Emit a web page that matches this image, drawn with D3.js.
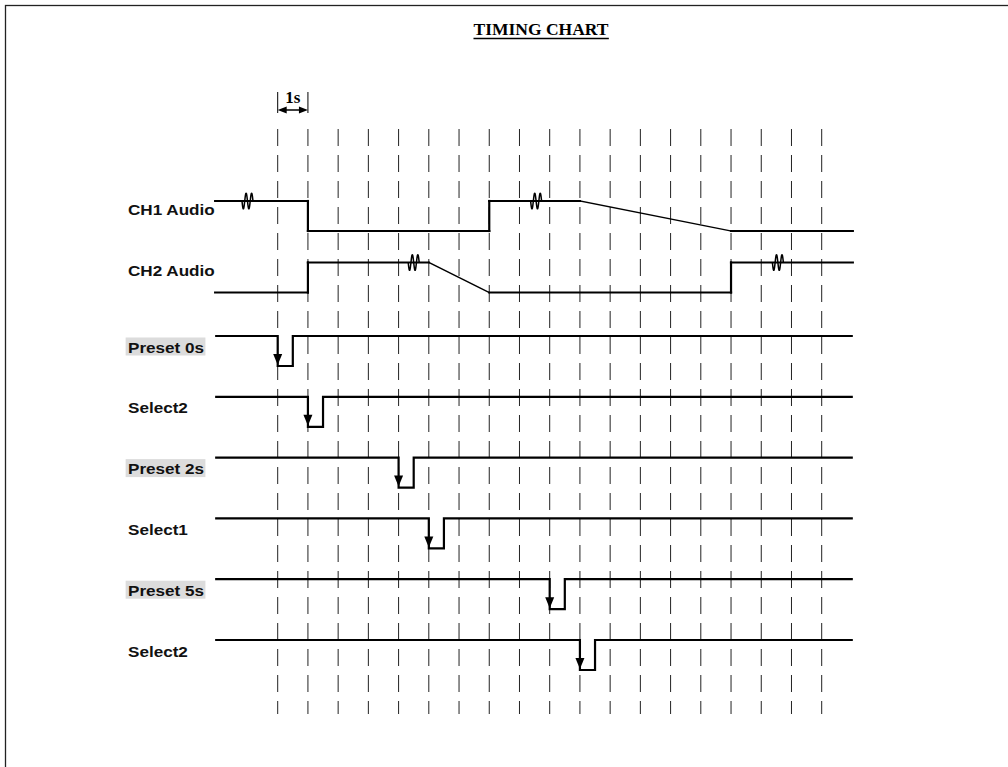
<!DOCTYPE html>
<html>
<head>
<meta charset="utf-8">
<script src="https://cdn.jsdelivr.net/npm/d3@7/dist/d3.min.js"></script>
<style>
  html, body { margin: 0; padding: 0; background: #fff; }
  svg { display: block; }
</style>
</head>
<body>
<svg id="chart" width="1008" height="767"></svg>
<script>
// ---------------- DATA ----------------
const title = "TIMING CHART";
const unitLabel = "1s";
const gridTicks = d3.range(0, 19);          // time grid, 1 s per division
const timeStart = -2.07, timeEnd = 19.03;

const audioRows = ["CH1 Audio", "CH2 Audio"];
// waypoints [time, level] (level 1 = high, 0 = low)
const ch1Audio = [[timeStart,1],[1,1],[1,0],[7,0],[7,1],[10,1],[15,0],[timeEnd,0]];
const ch2Audio = [[timeStart,0],[1,0],[1,1],[5,1],[7,0],[15,0],[15,1],[timeEnd,1]];
const ch1Breaks = [-1, 8.55];
const ch2Breaks = [4.5, 16.55];

const pulseRows   = ["Preset 0s", "Select2", "Preset 2s", "Select1", "Preset 5s", "Select2 "];
const pulseStarts = [0, 1, 4, 5, 9, 10];
const pulseWidth  = 0.5;
const highlighted = [true, false, true, false, true, false];

// ---------------- DRAWING ----------------
const svg = d3.select("#chart");
const x = d3.scaleLinear().domain([0, 18]).range([277.7, 821.7]);
const audioY = d3.scalePoint().domain(audioRows).range([201, 262.5]);
const pulseY = d3.scalePoint().domain(pulseRows).range([336, 640]);
const amp = 30;

// frame
svg.append("rect").attr("x", 5.5).attr("y", 5.5).attr("width", 1100).attr("height", 900)
  .attr("fill", "none").attr("stroke", "#222").attr("stroke-width", 1.3);

// title
const tt = svg.append("text").attr("x", 541).attr("y", 35)
  .attr("text-anchor", "middle")
  .attr("font-family", "'Liberation Serif', 'Times New Roman', serif")
  .attr("font-weight", "bold").attr("font-size", 17.5).attr("fill", "#000")
  .text(title);
const tb = tt.node().getBBox();
svg.append("line").attr("x1", tb.x).attr("x2", tb.x + tb.width)
  .attr("y1", 38.5).attr("y2", 38.5).attr("stroke", "#000").attr("stroke-width", 1.4);

// grid
svg.append("g").selectAll("line").data(gridTicks).join("line")
  .attr("x1", d => x(d)).attr("x2", d => x(d))
  .attr("y1", 129).attr("y2", 714)
  .attr("stroke", "#222").attr("stroke-width", 1)
  .attr("stroke-dasharray", "17,9");

// 1s marker
const mk = svg.append("g");
[0, 1].forEach(t => mk.append("line").attr("x1", x(t)).attr("x2", x(t))
  .attr("y1", 92).attr("y2", 113).attr("stroke", "#000").attr("stroke-width", 1));
mk.append("line").attr("x1", x(0) + 6).attr("x2", x(1) - 6).attr("y1", 110).attr("y2", 110)
  .attr("stroke", "#000").attr("stroke-width", 1.5);
mk.append("path").attr("d", `M${x(0)},110 L${x(0)+9},106.5 L${x(0)+9},113.5 Z`).attr("fill", "#000");
mk.append("path").attr("d", `M${x(1)},110 L${x(1)-9},106.5 L${x(1)-9},113.5 Z`).attr("fill", "#000");
mk.append("text").attr("x", (x(0) + x(1)) / 2).attr("y", 103).attr("text-anchor", "middle")
  .attr("font-family", "'Liberation Serif', 'Times New Roman', serif")
  .attr("font-weight", "bold").attr("font-size", 17).text(unitLabel);

// labels
const labelFont = "'Liberation Sans', Arial, Helvetica, sans-serif";
function label(txt, yBase, hl) {
  const g = svg.append("g").attr("transform", `translate(128,${yBase}) scale(1.18,1)`);
  if (hl) {
    const t0 = g.append("text").attr("font-family", labelFont).attr("font-weight", "bold")
      .attr("font-size", 14.5).text(txt.trim());
    const b = t0.node().getBBox();
    t0.remove();
    g.append("rect").attr("x", -2).attr("y", -15).attr("width", b.width + 3).attr("height", 18)
      .attr("fill", "#dcdcdc");
  }
  g.append("text").attr("font-family", labelFont).attr("font-weight", "bold")
    .attr("font-size", 14.5).attr("fill", "#111").text(txt.trim());
}

// audio signals
const lineGen = (row) => d3.line().x(d => x(d[0])).y(d => audioY(row) + (1 - d[1]) * amp);
[[ch1Audio, audioRows[0], ch1Breaks], [ch2Audio, audioRows[1], ch2Breaks]].forEach(([pts, row, brk]) => {
  for (let i = 0; i < pts.length - 1; i++) {
    const a = pts[i], b = pts[i + 1];
    const ramp = a[0] !== b[0] && a[1] !== b[1];
    svg.append("path").attr("d", lineGen(row)([a, b]))
      .attr("fill", "none").attr("stroke", "#000")
      .attr("stroke-width", ramp ? 1.4 : 2.2).attr("stroke-linecap", "square");
  }
  label(row, audioY(row) + amp / 2 - 1.5, false);
  // break squiggles
  brk.forEach(t => {
    const lvl = pts.find((p, i) => i < pts.length - 1 && p[0] <= t && pts[i + 1][0] >= t)[1];
    const cx = x(t), cy = audioY(row) + (1 - lvl) * amp;
    const sq = d3.range(0, 41).map(i => [cx - 5.5 + i * 11 / 40, cy + 8 * Math.sin(i / 40 * 4 * Math.PI)]);
    svg.append("path").attr("d", d3.line().curve(d3.curveBasis)(sq))
      .attr("fill", "none").attr("stroke", "#000").attr("stroke-width", 1.5);
  });
});

// pulse signals
pulseRows.forEach((row, i) => {
  const y0 = pulseY(row), y1 = y0 + amp;
  const s = pulseStarts[i];
  const pts = [[timeStart, y0], [s, y0], [s, y1], [s + pulseWidth, y1], [s + pulseWidth, y0], [timeEnd, y0]];
  svg.append("path").attr("d", d3.line().x(d => x(d[0])).y(d => d[1])(pts))
    .attr("fill", "none").attr("stroke", "#000").attr("stroke-width", 2.2);
  const ax = x(s);
  svg.append("path").attr("d", `M${ax},${y1 - 1} L${ax - 4.5},${y1 - 12} L${ax + 4.5},${y1 - 12} Z`)
    .attr("fill", "#000");
  label(row, y0 + amp / 2 + 1.5, highlighted[i]);
});
</script>
</body>
</html>
